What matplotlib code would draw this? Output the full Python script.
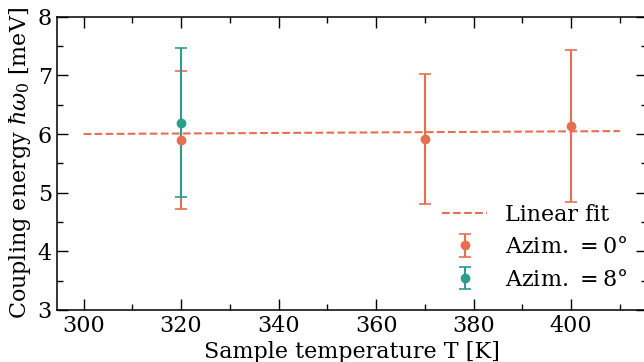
import matplotlib
matplotlib.use('Agg')
import matplotlib.pyplot as plt
from matplotlib.ticker import MultipleLocator

plt.rcParams['font.family'] = 'DejaVu Serif'
plt.rcParams['mathtext.fontset'] = 'dejavuserif'

# data
temp_0 = [320, 370, 400]
energy_0 = [5.90, 5.92, 6.14]
err_0 = [1.17, 1.11, 1.30]

temp_8 = [320]
energy_8 = [6.19]
err_8 = [1.27]

fit_x = [300, 410]
fit_y = [6.00, 6.05]

orange = '#E76F51'
teal = '#2A9D8F'

fig = plt.figure(figsize=(6.44, 3.62), dpi=100)
ax = fig.add_axes([56.7 / 644, 52 / 362, 590 / 644, 293.3 / 362])

ax.plot(fit_x, fit_y, '--', color=orange, lw=1.5, label='Linear fit')
ax.errorbar(temp_0, energy_0, yerr=err_0, fmt='o', color=orange, ms=6,
            elinewidth=1.5, capsize=4.5, capthick=1.2, label=r'Azim. $= 0°$')
ax.errorbar(temp_8, energy_8, yerr=err_8, fmt='o', color=teal, ms=6,
            elinewidth=1.5, capsize=4.5, capthick=1.2, label=r'Azim. $= 8°$')

ax.set_xlim(294.5, 415.5)
ax.set_ylim(3, 8)
ax.xaxis.set_major_locator(MultipleLocator(20))
ax.xaxis.set_minor_locator(MultipleLocator(10))
ax.yaxis.set_major_locator(MultipleLocator(1))
ax.yaxis.set_minor_locator(MultipleLocator(0.5))
ax.tick_params(which='both', direction='in', top=True, right=True, labelsize=16, width=1)
ax.tick_params(which='major', length=8)
ax.tick_params(which='minor', length=4.5)
for s in ax.spines.values():
    s.set_linewidth(1.1)

ax.set_xlabel('Sample temperature T [K]', fontsize=16, labelpad=3)
ax.set_ylabel(r'Coupling energy $\hbar\omega_0$ [meV]', fontsize=16, labelpad=3)

ax.legend(loc='lower right', frameon=False, fontsize=16, handlelength=2.0,
          borderaxespad=0.3, labelspacing=0.48, bbox_to_anchor=(0.993, 0.012))

fig.savefig('out.png', dpi=100)
